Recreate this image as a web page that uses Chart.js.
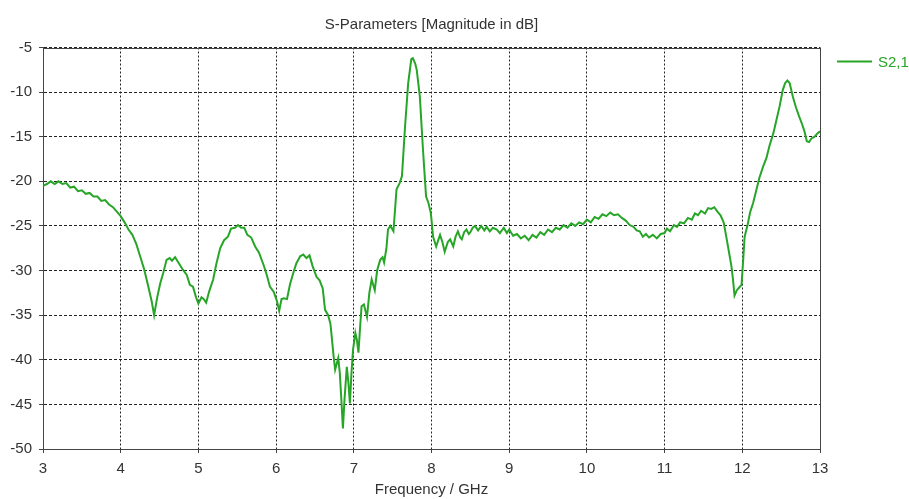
<!DOCTYPE html>
<html>
<head>
<meta charset="utf-8">
<script src="https://cdn.jsdelivr.net/npm/chart.js@4.4.1/dist/chart.umd.min.js"></script>
<style>
  html, body { margin: 0; padding: 0; background: #fff; }
  #wrap { width: 909px; height: 499px; }
</style>
</head>
<body>
<div id="wrap"><canvas id="chart" width="909" height="499"></canvas></div>
<script>
// S2,1 magnitude (dB) vs frequency (GHz)
const freq = [
  3.00, 3.05, 3.10, 3.15, 3.20, 3.25, 3.30, 3.35, 3.40, 3.45, 3.50, 3.55, 3.60, 3.65, 3.70, 3.75, 3.80, 3.85, 3.90, 3.95,
  4.00, 4.05, 4.10, 4.15, 4.20, 4.25, 4.30, 4.35, 4.40, 4.43, 4.47, 4.51, 4.55, 4.59, 4.63, 4.66, 4.70, 4.75, 4.80, 4.85,
  4.89, 4.93, 4.97, 5.00, 5.04, 5.07, 5.10, 5.14, 5.19, 5.23, 5.28, 5.33, 5.38, 5.42, 5.47, 5.51, 5.55, 5.59, 5.63, 5.68,
  5.73, 5.78, 5.84, 5.88, 5.92, 5.97, 6.01, 6.04, 6.07, 6.10, 6.14, 6.18, 6.22, 6.26, 6.31, 6.35, 6.39, 6.43, 6.47, 6.52,
  6.56, 6.60, 6.63, 6.67, 6.70, 6.74, 6.76, 6.80, 6.82, 6.84, 6.86, 6.88, 6.91, 6.93, 6.95, 6.97, 6.99, 7.02, 7.04, 7.06,
  7.08, 7.10, 7.13, 7.17, 7.20, 7.23, 7.27, 7.30, 7.34, 7.37, 7.39, 7.42, 7.44, 7.47, 7.49, 7.51, 7.55, 7.59, 7.62, 7.66,
  7.70, 7.74, 7.76, 7.79, 7.81, 7.85, 7.89, 7.93, 7.96, 7.99, 8.00, 8.02, 8.06, 8.09, 8.11, 8.14, 8.17, 8.21, 8.24, 8.28,
  8.31, 8.34, 8.37, 8.39, 8.42, 8.45, 8.48, 8.50, 8.53, 8.56, 8.60, 8.64, 8.68, 8.71, 8.75, 8.79, 8.84, 8.88, 8.93, 8.97,
  9.00, 9.05, 9.10, 9.15, 9.20, 9.25, 9.30, 9.35, 9.40, 9.45, 9.50, 9.55, 9.60, 9.65, 9.70, 9.75, 9.80, 9.85, 9.90, 9.95,
  10.00, 10.05, 10.10, 10.15, 10.20, 10.25, 10.30, 10.35, 10.40, 10.45, 10.50, 10.55, 10.60, 10.64, 10.68, 10.72, 10.76, 10.80, 10.85, 10.90,
  10.95, 11.00, 11.03, 11.07, 11.12, 11.16, 11.20, 11.25, 11.30, 11.35, 11.39, 11.43, 11.47, 11.52, 11.56, 11.60, 11.64, 11.68, 11.72, 11.76,
  11.80, 11.83, 11.86, 11.88, 11.90, 11.93, 11.96, 11.99, 12.01, 12.03, 12.07, 12.10, 12.14, 12.18, 12.22, 12.27, 12.31, 12.35, 12.40, 12.44,
  12.48, 12.52, 12.55, 12.58, 12.61, 12.65, 12.69, 12.73, 12.77, 12.80, 12.83, 12.86, 12.89, 12.93, 12.97, 13.00
];
const s21 = [
  -20.5, -20.3, -20.0, -20.3, -20.0, -20.3, -20.2, -20.7, -20.6, -21.1, -21.0, -21.4, -21.3, -21.7, -21.7, -22.2, -22.1, -22.6, -22.9, -23.4,
  -23.9, -24.6, -25.4, -26.0, -27.0, -28.4, -29.8, -31.6, -33.5, -35.0, -33.0, -31.4, -30.2, -28.8, -28.6, -28.9, -28.5, -29.2, -29.9, -30.5,
  -31.6, -31.8, -33.0, -33.7, -33.0, -33.2, -33.6, -32.3, -31.0, -29.3, -27.5, -26.6, -26.2, -25.3, -25.2, -24.9, -25.2, -25.2, -26.0, -26.3,
  -27.3, -28.0, -29.4, -30.5, -31.8, -32.4, -33.4, -34.5, -33.2, -33.1, -33.2, -31.5, -30.3, -29.2, -28.4, -28.2, -28.6, -28.3, -29.5, -30.7,
  -31.1, -32.0, -34.4, -35.0, -36.0, -39.6, -41.1, -39.8, -41.5, -44.5, -47.7, -44.5, -40.8, -42.5, -44.9, -41.5, -38.9, -37.0, -37.8, -39.2,
  -36.5, -34.0, -33.8, -35.2, -32.5, -31.0, -32.2, -30.0, -28.8, -28.5, -29.1, -27.5, -25.4, -25.0, -25.3, -25.6, -20.9, -20.2, -19.4, -13.8,
  -9.0, -6.3, -6.2, -6.8, -7.5, -10.5, -16.4, -21.7, -22.4, -23.5, -24.3, -26.2, -27.3, -26.5, -26.0, -26.8, -27.9, -26.8, -26.5, -27.3,
  -26.2, -25.6, -26.3, -26.5, -25.7, -25.4, -25.9, -25.7, -25.2, -25.0, -25.5, -25.0, -25.5, -25.1, -25.6, -25.2, -25.4, -25.8, -25.2, -25.8,
  -25.4, -26.1, -25.9, -26.4, -26.1, -26.6, -26.0, -26.3, -25.7, -26.0, -25.4, -25.7, -25.2, -25.4, -24.9, -25.2, -24.7, -25.0, -24.6, -24.8,
  -24.3, -24.6, -24.0, -24.2, -23.7, -23.9, -23.5, -23.8, -23.7, -24.1, -24.4, -24.9, -25.1, -25.5, -25.6, -26.2, -25.9, -26.3, -26.0, -26.4,
  -25.9, -25.8, -25.3, -25.6, -24.9, -25.1, -24.6, -24.7, -24.1, -24.3, -23.6, -23.8, -23.3, -23.6, -23.0, -23.1, -22.9, -23.4, -23.8, -24.6,
  -26.5, -28.0, -29.5, -31.0, -32.8, -32.2, -31.9, -31.6, -29.0, -26.2, -24.8, -23.5, -22.4, -21.0, -19.6, -18.3, -17.4, -16.0, -14.6, -13.1,
  -11.6, -9.8, -9.0, -8.7, -9.0, -10.5, -11.7, -12.7, -13.6, -14.4, -15.5, -15.6, -15.2, -15.0, -14.6, -14.4
];
const xTicks = [3, 4, 5, 6, 7, 8, 9, 10, 11, 12, 13];
const yTicks = [-50, -45, -40, -35, -30, -25, -20, -15, -10, -5];

const seriesName = "S2,1";
const lineColor = "#27a527";
const textColor = "#333333";
const fontFamily = "'Liberation Sans', Arial, sans-serif";

// solid frame on top/right edges of the plot
const frame = {
  id: "frame",
  afterDatasetsDraw(chart) {
    const { ctx, chartArea: a } = chart;
    ctx.save();
    ctx.strokeStyle = "#444";
    ctx.lineWidth = 1;
    ctx.beginPath();
    ctx.moveTo(Math.round(a.left) + 0.5, Math.round(a.top) + 0.5);
    ctx.lineTo(Math.round(a.right) + 0.5, Math.round(a.top) + 0.5);
    ctx.lineTo(Math.round(a.right) + 0.5, Math.round(a.bottom) + 0.5);
    ctx.stroke();
    ctx.restore();
  }
};

// small legend to the right of the plot
const sideLegend = {
  id: "sideLegend",
  afterDraw(chart) {
    const { ctx, chartArea: a } = chart;
    const y = a.top + 14;
    const x0 = a.right + 17;
    ctx.save();
    ctx.strokeStyle = lineColor;
    ctx.lineWidth = 2;
    ctx.beginPath();
    ctx.moveTo(x0, y);
    ctx.lineTo(x0 + 35, y);
    ctx.stroke();
    ctx.fillStyle = lineColor;
    ctx.font = "15px " + fontFamily;
    ctx.textBaseline = "middle";
    ctx.fillText(seriesName, x0 + 41, y + 1);
    ctx.restore();
  }
};

const points = freq.map((f, i) => ({ x: f, y: s21[i] }));

new Chart(document.getElementById("chart"), {
  type: "line",
  data: {
    datasets: [{
      label: seriesName,
      data: points,
      borderColor: lineColor,
      borderWidth: 2,
      pointRadius: 0,
      tension: 0,
      fill: false
    }]
  },
  options: {
    responsive: false,
    animation: false,
    layout: { padding: { left: 0, right: 89, top: 0, bottom: 0 } },
    plugins: {
      legend: { display: false },
      tooltip: { enabled: false },
      title: {
        display: true,
        text: "S-Parameters [Magnitude in dB]",
        fullSize: false,
        color: textColor,
        font: { family: fontFamily, size: 15, weight: "normal" },
        padding: { top: 16, bottom: 13.5 }
      }
    },
    scales: {
      x: {
        type: "linear",
        min: 3,
        max: 13,
        afterBuildTicks: (s) => { s.ticks = xTicks.map(v => ({ value: v })); },
        afterFit: (s) => { s.height = 50; },
        ticks: {
          color: textColor,
          font: { family: fontFamily, size: 15 },
          padding: 7,
          maxRotation: 0
        },
        grid: {
          color: "#222",
          lineWidth: 1,
          tickLength: 4,
          tickColor: "#444"
        },
        border: { display: true, color: "#444", width: 1, dash: [2, 2] },
        title: {
          display: true,
          text: "Frequency / GHz",
          color: textColor,
          font: { family: fontFamily, size: 15 },
          padding: { top: 0, bottom: 0 }
        }
      },
      y: {
        type: "linear",
        min: -50,
        max: -5,
        afterBuildTicks: (s) => { s.ticks = yTicks.map(v => ({ value: v })); },
        afterFit: (s) => { s.width = 43; },
        ticks: {
          color: textColor,
          font: { family: fontFamily, size: 15 },
          padding: 7
        },
        grid: {
          color: "#222",
          lineWidth: 1,
          tickLength: 4,
          tickColor: "#444"
        },
        border: { display: true, color: "#444", width: 1, dash: [3, 2] }
      }
    }
  },
  plugins: [frame, sideLegend]
});
</script>
</body>
</html>
